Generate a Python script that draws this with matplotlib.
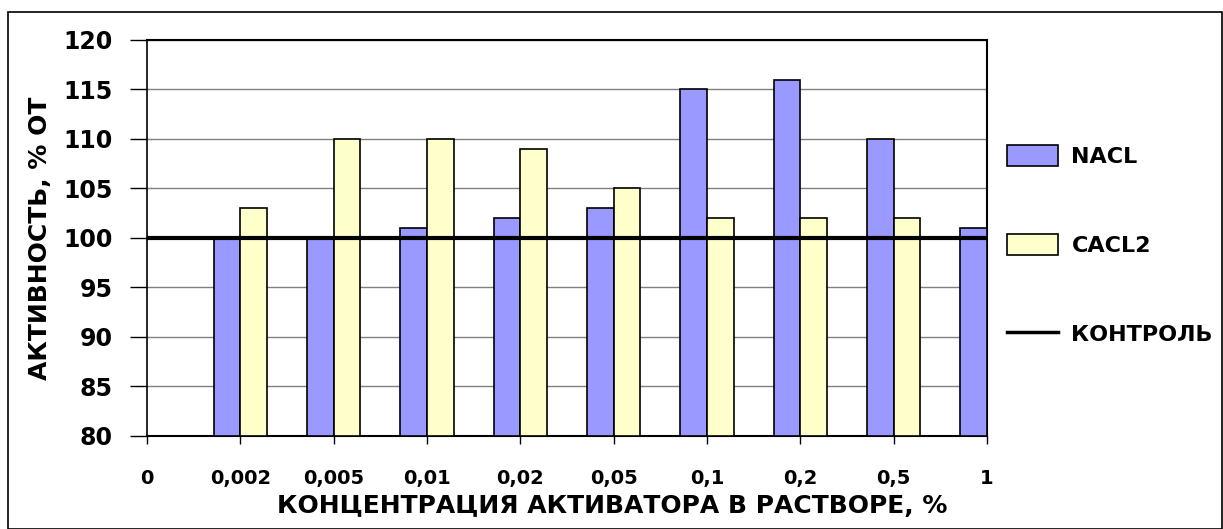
import matplotlib
matplotlib.use("Agg")
import matplotlib.pyplot as plt
from matplotlib.patches import Rectangle
from matplotlib.lines import Line2D
import numpy as np

categories = ["0", "0,002", "0,005", "0,01", "0,02", "0,05", "0,1", "0,2", "0,5", "1"]
nacl = [np.nan, 100, 100, 101, 102, 103, 115, 116, 110, 101]
cacl2 = [np.nan, 103, 110, 110, 109, 105, 102, 102, 102, np.nan]
control = 100
yticks = [80, 85, 90, 95, 100, 105, 110, 115, 120]

plt.rcParams['font.family'] = ['DejaVu Sans']
W, H = 1223, 529
fig = plt.figure(figsize=(W/100, H/100), dpi=100)
ax = fig.add_axes([147/W, 1-436/H, (987-147)/W, (436-40)/H])

x = np.arange(len(categories))
bw = 0.285
base = 80
nv = np.array(nacl, dtype=float)
cv = np.array(cacl2, dtype=float)
ax.bar(x - bw/2, nv - base, bw, bottom=base, color="#9999FF", edgecolor="black", linewidth=1.2, zorder=3, label="NACL")
ax.bar(x + bw/2, cv - base, bw, bottom=base, color="#FFFFCC", edgecolor="black", linewidth=1.2, zorder=3, label="CACL2")
ax.axhline(control, color="black", linewidth=3, zorder=4, label="КОНТРОЛЬ")

ax.set_xlim(0, len(categories) - 1)
ax.set_ylim(80, 120)
ax.set_yticks(yticks)
ax.set_yticklabels([str(v) for v in yticks], fontsize=17, fontweight="bold")
ax.set_xticks(x)
ax.set_xticklabels(categories, fontsize=14, fontweight="bold")
ax.yaxis.grid(True, color="#808080", linewidth=1, zorder=0)
ax.set_axisbelow(True)
ax.tick_params(axis="y", length=12, width=1, pad=13)
ax.tick_params(axis="x", length=6, width=1, pad=18)
for s in ax.spines.values():
    s.set_linewidth(1.5)
    s.set_color("black")
ax.spines["left"].set_linewidth(1.2)

ax.set_xlabel("КОНЦЕНТРАЦИЯ АКТИВАТОРА В РАСТВОРЕ, %", fontsize=18, fontweight="bold", labelpad=0)
ax.xaxis.set_label_coords((612-147)/(987-147), -(494-436)/(436-40))
ax.set_ylabel("АКТИВНОСТЬ, % ОТ", fontsize=18, fontweight="bold")
ax.yaxis.set_label_coords(-(147-52)/(987-147), 0.5)

handles = [Rectangle((0, 0), 1, 1, facecolor="#9999FF", edgecolor="black", linewidth=1.2),
           Rectangle((0, 0), 1, 1, facecolor="#FFFFCC", edgecolor="black", linewidth=1.2),
           Line2D([], [], color="black", linewidth=2.5)]
fig.legend(handles, ["NACL", "CACL2", "КОНТРОЛЬ"], loc="upper left",
           bbox_to_anchor=(987/W, 1-125/H), frameon=False,
           prop={"family": "DejaVu Sans", "weight": "bold", "size": 16},
           handlelength=2.3, handleheight=1.1, labelspacing=3.0, handletextpad=0.6)

fig.add_artist(Rectangle((8/W, 0), (W-9)/W, 1-12/H, transform=fig.transFigure,
                         fill=False, edgecolor="black", linewidth=1.2))
fig.savefig("out.png", dpi=100)
